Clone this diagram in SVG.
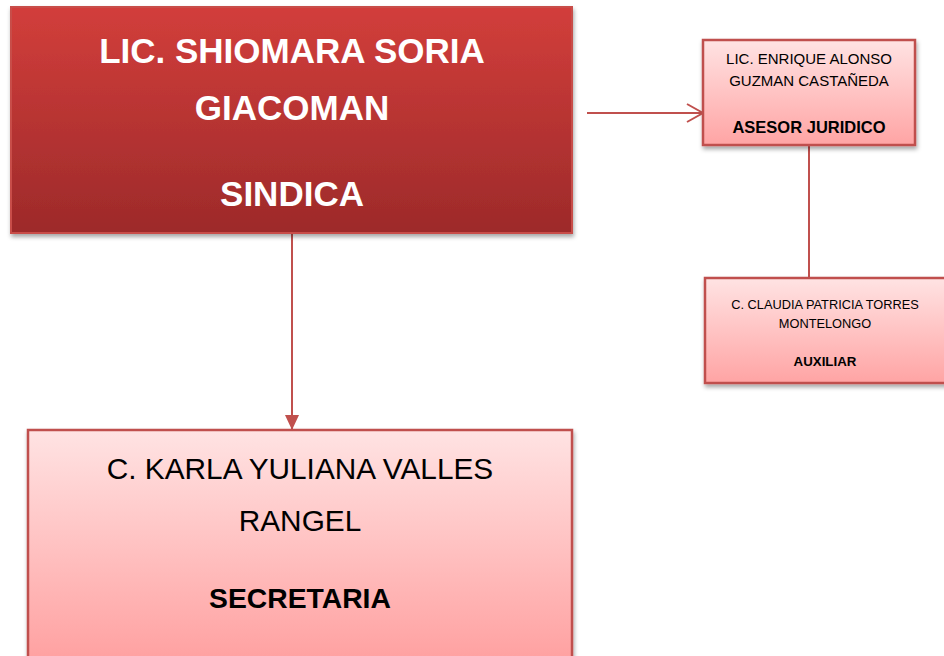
<svg xmlns="http://www.w3.org/2000/svg" width="944" height="656" viewBox="0 0 944 656">
<defs>
<linearGradient id="gRed" x1="0" y1="0" x2="0" y2="1">
<stop offset="0" stop-color="#d23e3b"/>
<stop offset="1" stop-color="#9d2a2a"/>
</linearGradient>
<linearGradient id="gPink" x1="0" y1="0" x2="0" y2="1">
<stop offset="0" stop-color="#ffe3e3"/>
<stop offset="1" stop-color="#ffa4a4"/>
</linearGradient>
<linearGradient id="gPinkTall" gradientUnits="userSpaceOnUse" x1="0" y1="430" x2="0" y2="656">
<stop offset="0" stop-color="#ffe3e3"/>
<stop offset="1" stop-color="#ffa2a2"/>
</linearGradient>
<filter id="sh" x="-10%" y="-10%" width="120%" height="125%">
<feDropShadow dx="1" dy="3" stdDeviation="2" flood-color="#000" flood-opacity="0.35"/>
</filter>
<marker id="tri" markerWidth="16" markerHeight="16" refX="15" refY="7" orient="auto" markerUnits="userSpaceOnUse">
<path d="M0,0 L15,7 L0,14 Z" fill="#c0504d"/>
</marker>
<marker id="vee" markerWidth="20" markerHeight="22" refX="18" refY="11" orient="auto" markerUnits="userSpaceOnUse">
<path d="M2,2 L18,11 L2,20" fill="none" stroke="#c0504d" stroke-width="2"/>
</marker>
</defs>
<style>
.t{font-family:"Liberation Sans",Arial,sans-serif;text-anchor:middle}
.w{fill:#ffffff;font-weight:bold}
.k{fill:#000000}
.b{font-weight:bold}
.pink{stroke:#c0504d;stroke-width:2.5}
.conn{stroke:#c0504d;stroke-width:2;fill:none}
</style>
<rect width="944" height="656" fill="#ffffff"/>
<g id="connectors">
<line class="conn" x1="292" y1="233" x2="292" y2="430" marker-end="url(#tri)"/>
<line class="conn" x1="587" y1="113" x2="703" y2="113" marker-end="url(#vee)"/>
<line class="conn" x1="809" y1="145" x2="809" y2="278"/>
</g>
<g id="sindica">
<rect x="11" y="7" width="561" height="226" fill="url(#gRed)" stroke="#c84d4a" stroke-width="2" filter="url(#sh)"/>
<text class="t w" x="292" y="63" font-size="35">LIC. SHIOMARA SORIA</text>
<text class="t w" x="292" y="120" font-size="35">GIACOMAN</text>
<text class="t w" x="292" y="206" font-size="35">SINDICA</text>
</g>
<g id="asesor">
<rect class="pink" x="703" y="40" width="212" height="105" fill="url(#gPink)" filter="url(#sh)"/>
<text class="t k" x="809" y="64" font-size="15">LIC. ENRIQUE ALONSO</text>
<text class="t k" x="809" y="86" font-size="15">GUZMAN CASTAÑEDA</text>
<text class="t k b" x="809" y="133" font-size="16.5">ASESOR JURIDICO</text>
</g>
<g id="auxiliar">
<rect class="pink" x="705" y="278" width="241" height="105" fill="url(#gPink)" filter="url(#sh)"/>
<text class="t k" x="825" y="309" font-size="12.8">C. CLAUDIA PATRICIA TORRES</text>
<text class="t k" x="825" y="328" font-size="12.8">MONTELONGO</text>
<text class="t k b" x="825" y="366" font-size="13.3">AUXILIAR</text>
</g>
<g id="secretaria">
<rect class="pink" x="28" y="430" width="544" height="240" fill="url(#gPinkTall)" filter="url(#sh)"/>
<text class="t k" x="300" y="479" font-size="29.8">C. KARLA YULIANA VALLES</text>
<text class="t k" x="300" y="531" font-size="29.8">RANGEL</text>
<text class="t k b" x="300" y="608" font-size="28.3">SECRETARIA</text>
</g>
</svg>
